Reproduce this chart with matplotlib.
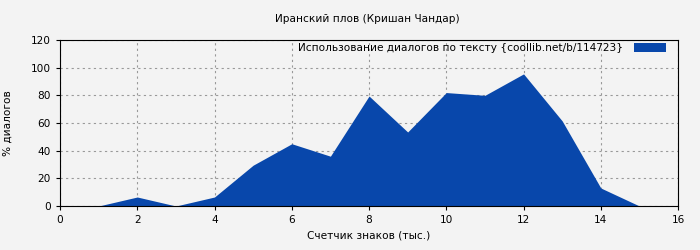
import matplotlib
matplotlib.use("Agg")
import matplotlib.pyplot as plt

# данные графика
x_vals = [1, 2, 3, 4, 5, 6, 7, 8, 9, 10, 11, 12, 13, 14, 15]
y_vals = [0, 6.5, 0, 6.5, 29.5, 45, 36, 79.5, 53.5, 82, 80, 95.5, 61.5, 13, 0]
x_ticks = [0, 2, 4, 6, 8, 10, 12, 14, 16]
y_ticks = [0, 20, 40, 60, 80, 100, 120]

bg = '#f3f3f3'
fill_col = '#0847ab'
fs = 7.6

plt.rcParams['font.family'] = ['DejaVu Sans']
plt.rcParams['font.size'] = fs

fig = plt.figure(figsize=(7, 2.5), dpi=100, facecolor=bg)
ax = fig.add_axes([0.0857, 0.176, 0.883, 0.664])
ax.set_facecolor(bg)

ax.fill_between(x_vals, y_vals, 0, color=fill_col, linewidth=0,
                label='Использование диалогов по тексту {coollib.net/b/114723}')

ax.set_xlim(0, 16)
ax.set_ylim(0, 120)
ax.set_xticks(x_ticks)
ax.set_yticks(y_ticks)
ax.grid(True, linestyle=(0, (2, 3)), color='#999999', linewidth=0.8)
ax.set_axisbelow(True)
for s in ax.spines.values():
    s.set_color('black')
ax.tick_params(direction='out', length=3, labelsize=fs)

ax.set_xlabel('Счетчик знаков (тыс.)', fontsize=fs)
ax.set_ylabel('% диалогов', fontsize=fs, labelpad=13)
fig.text(0.525, 0.925, 'Иранский плов (Кришан Чандар)', ha='center', va='center', fontsize=fs)

# легенда: подпись слева, цветной прямоугольник справа
ax.legend(loc='upper right', frameon=False, markerfirst=False, fontsize=fs,
          handlelength=3.0, handleheight=0.9, handletextpad=1.0,
          borderaxespad=0.2, borderpad=0.1, bbox_to_anchor=(0.985, 1.0))

fig.savefig('out.png', dpi=100, facecolor=bg)
